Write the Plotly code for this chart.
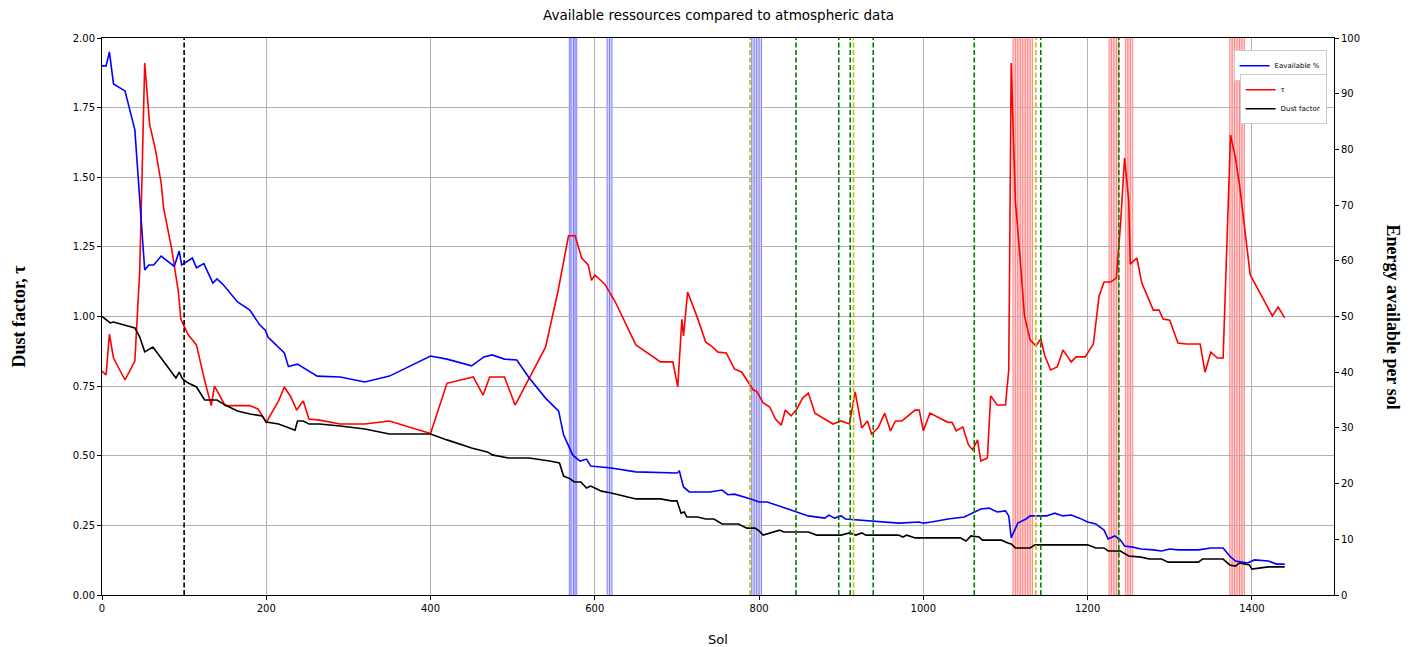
import plotly.graph_objects as go

# ---------------- data ----------------
blue_sol = [0, 5, 9, 14, 28, 40, 52, 57, 63, 72, 88, 94, 97, 110, 115, 124, 135, 140, 148, 165, 180, 192, 199, 202,
            222, 227, 238, 248, 262, 290, 320, 350, 400, 420, 450, 465, 475, 490, 505, 520, 540, 556, 562, 573, 582,
            590, 595, 620, 650, 700, 703, 708, 715, 740, 755, 762, 770, 790, 800, 810, 840, 860, 880, 885, 892, 900,
            905, 920, 930, 950, 970, 995, 1000, 1010, 1030, 1050, 1060, 1070, 1080, 1090, 1100, 1104, 1107, 1115,
            1125, 1130, 1150, 1160, 1170, 1180, 1190, 1200, 1210, 1220, 1225, 1233, 1240, 1245, 1255, 1265, 1280,
            1290, 1300, 1310, 1335, 1350, 1365, 1373, 1380, 1395, 1403, 1420, 1430, 1440]
blue_val = [1.90, 1.90, 1.95, 1.835, 1.81, 1.67, 1.167, 1.185, 1.185, 1.217, 1.18, 1.235, 1.185, 1.21, 1.175, 1.19,
            1.12, 1.135, 1.113, 1.052, 1.023, 0.97, 0.95, 0.926, 0.869, 0.82, 0.829, 0.81, 0.786, 0.783, 0.765, 0.786,
            0.858, 0.847, 0.823, 0.855, 0.862, 0.847, 0.844, 0.78, 0.707, 0.66, 0.575, 0.503, 0.481, 0.488, 0.463,
            0.456, 0.442, 0.438, 0.445, 0.388, 0.37, 0.37, 0.377, 0.36, 0.362, 0.345, 0.334, 0.334, 0.305, 0.284,
            0.276, 0.287, 0.276, 0.284, 0.273, 0.269, 0.266, 0.262, 0.258, 0.262, 0.258, 0.262, 0.273, 0.28, 0.294,
            0.309, 0.312, 0.298, 0.302, 0.284, 0.205, 0.258, 0.273, 0.284, 0.284, 0.294, 0.284, 0.287, 0.276, 0.262,
            0.255, 0.233, 0.201, 0.212, 0.197, 0.176, 0.172, 0.165, 0.162, 0.158, 0.165, 0.162, 0.162, 0.169, 0.169,
            0.14, 0.122, 0.115, 0.126, 0.122, 0.111, 0.111]
# energy available in percent (right axis)
energy_pct = [round(v * 50, 2) for v in blue_val]

tau_sol = [0, 5, 9, 14, 28, 40, 46, 52, 58, 65, 72, 75, 85, 93, 96, 105, 115, 125, 133, 137, 150, 160, 180, 190, 200,
           215, 222, 230, 237, 245, 252, 265, 290, 320, 350, 400, 420, 452, 464, 472, 490, 503, 520, 540, 555, 568,
           576, 584, 592, 596, 600, 612, 625, 650, 680, 695, 701, 706, 708, 713, 725, 735, 742, 750, 760, 770, 779,
           793, 797, 805, 813, 820, 827, 832, 839, 846, 853, 860, 868, 880, 890, 900, 910, 917, 925, 932, 937, 945,
           953, 960, 966, 974, 990, 995, 1000, 1008, 1030, 1035, 1040, 1048, 1055, 1060, 1066, 1070, 1078, 1082,
           1090, 1100, 1104, 1107, 1112, 1118, 1123, 1130, 1137, 1143, 1148, 1155, 1163, 1170, 1180, 1186, 1197,
           1207, 1214, 1220, 1228, 1235, 1240, 1245, 1250, 1252, 1260, 1266, 1280, 1287, 1292, 1300, 1310, 1320,
           1337, 1343, 1350, 1358, 1365, 1374, 1380, 1385, 1392, 1398, 1410, 1425, 1432, 1440]
tau_val = [0.804, 0.79, 0.937, 0.851, 0.772, 0.84, 1.167, 1.91, 1.69, 1.60, 1.48, 1.39, 1.24, 1.088, 0.99, 0.934,
           0.898, 0.77, 0.68, 0.75, 0.68, 0.68, 0.68, 0.668, 0.62, 0.697, 0.747, 0.711, 0.664, 0.697, 0.632, 0.628,
           0.614, 0.614, 0.625, 0.58, 0.76, 0.783, 0.718, 0.783, 0.783, 0.682, 0.78, 0.89, 1.088, 1.29, 1.29, 1.21,
           1.185, 1.13, 1.149, 1.117, 1.052, 0.898, 0.837, 0.837, 0.747, 0.99, 0.93, 1.088, 0.995, 0.908, 0.894,
           0.872, 0.869, 0.812, 0.80, 0.736, 0.732, 0.69, 0.675, 0.632, 0.61, 0.664, 0.643, 0.668, 0.707, 0.725,
           0.653, 0.632, 0.614, 0.625, 0.614, 0.729, 0.60, 0.625, 0.578, 0.60, 0.653, 0.589, 0.625, 0.625, 0.664,
           0.664, 0.589, 0.653, 0.62, 0.62, 0.589, 0.603, 0.539, 0.521, 0.557, 0.481, 0.492, 0.715, 0.682, 0.682,
           0.808, 1.91, 1.418, 1.203, 1.005, 0.916, 0.894, 0.919, 0.858, 0.808, 0.819, 0.88, 0.837, 0.855, 0.855,
           0.901, 1.074, 1.124, 1.124, 1.138, 1.328, 1.569, 1.418, 1.188, 1.21, 1.12, 1.023, 1.023, 0.991, 0.987,
           0.905, 0.901, 0.901, 0.80, 0.872, 0.851, 0.851, 1.652, 1.569, 1.472, 1.303, 1.149, 1.084, 1.002, 1.034,
           0.995]

dust_sol = [0, 10, 14, 30, 40, 46, 52, 62, 72, 85, 90, 94, 98, 105, 115, 125, 140, 150, 165, 180, 195, 200, 215, 228,
            235, 238, 245, 252, 265, 290, 320, 350, 400, 420, 450, 470, 475, 495, 520, 545, 557, 562, 570, 575, 583,
            590, 595, 600, 608, 620, 650, 680, 693, 700, 705, 709, 712, 725, 735, 745, 755, 775, 785, 795, 800, 805,
            815, 825, 830, 860, 870, 900, 910, 918, 925, 930, 970, 975, 980, 990, 1045, 1052, 1058, 1068, 1072, 1095,
            1103, 1107, 1112, 1130, 1136, 1200, 1210, 1220, 1225, 1240, 1250, 1265, 1275, 1290, 1298, 1335, 1340,
            1365, 1373, 1380, 1385, 1397, 1400, 1420, 1440]
dust_val = [1.0, 0.977, 0.98, 0.966, 0.959, 0.926, 0.873, 0.89, 0.851, 0.797, 0.779, 0.80, 0.776, 0.761, 0.747, 0.70,
            0.70, 0.682, 0.661, 0.65, 0.643, 0.621, 0.614, 0.60, 0.592, 0.625, 0.625, 0.614, 0.614, 0.607, 0.596,
            0.578, 0.578, 0.557, 0.528, 0.513, 0.503, 0.492, 0.492, 0.481, 0.474, 0.427, 0.417, 0.406, 0.406, 0.384,
            0.391, 0.384, 0.373, 0.366, 0.345, 0.345, 0.338, 0.338, 0.294, 0.298, 0.28, 0.28, 0.273, 0.273, 0.255,
            0.255, 0.24, 0.24, 0.23, 0.215, 0.223, 0.233, 0.226, 0.226, 0.215, 0.215, 0.223, 0.215, 0.223, 0.215,
            0.215, 0.208, 0.215, 0.205, 0.205, 0.194, 0.212, 0.208, 0.197, 0.197, 0.187, 0.183, 0.169, 0.169, 0.18,
            0.18, 0.169, 0.169, 0.158, 0.158, 0.14, 0.136, 0.129, 0.129, 0.118, 0.118, 0.129, 0.129, 0.108, 0.104,
            0.115, 0.108, 0.093, 0.101, 0.101]

# event markers (sols)
black_event_sols = [100]
green_event_sols = [845, 897, 911, 939, 1062, 1143, 1238]
yellow_event_sols = [789, 915, 1137]
blue_storm_sols = [[569, 571, 574, 576, 578], [615, 618, 621], [791, 794, 797, 800, 803]]
red_storm_sols = [[1109, 1112, 1115, 1118, 1121, 1124, 1127, 1130, 1133],
                  [1226, 1229, 1232, 1235, 1238],
                  [1246, 1249, 1252, 1255],
                  [1373, 1376, 1379, 1382, 1385, 1388, 1391]]

x_ticks = [0, 200, 400, 600, 800, 1000, 1200, 1400]
left_ticks = [0.0, 0.25, 0.5, 0.75, 1.0, 1.25, 1.5, 1.75, 2.0]
right_ticks = [0, 10, 20, 30, 40, 50, 60, 70, 80, 90, 100]

# ---------------- figure ----------------
fig = go.Figure()

fig.add_trace(go.Scatter(x=tau_sol, y=tau_val, mode="lines", name="τ",
                         line=dict(color="#ff0000", width=1.6), legend="legend2"))
fig.add_trace(go.Scatter(x=dust_sol, y=dust_val, mode="lines", name="Dust factor",
                         line=dict(color="#000000", width=1.6), legend="legend2"))
fig.add_trace(go.Scatter(x=blue_sol, y=energy_pct, mode="lines", name="Eavailable %",
                         line=dict(color="#0000ff", width=1.6), yaxis="y2", legend="legend"))

shapes = []
for group, col_fill, col_line in [(g, "rgba(0,0,255,0.14)", "rgba(0,0,255,0.42)") for g in blue_storm_sols] + \
                                 [(g, "rgba(255,0,0,0.16)", "rgba(255,0,0,0.38)") for g in red_storm_sols]:
    shapes.append(dict(type="rect", xref="x", yref="paper", x0=min(group), x1=max(group), y0=0, y1=1,
                       fillcolor=col_fill, line=dict(width=0), layer="below"))
    for s in group:
        shapes.append(dict(type="line", xref="x", yref="paper", x0=s, x1=s, y0=0, y1=1,
                           line=dict(color=col_line, width=1.1), layer="below"))

for sols, col in [(black_event_sols, "#000000"), (yellow_event_sols, "#bfbf00"), (green_event_sols, "#008000")]:
    for s in sols:
        shapes.append(dict(type="line", xref="x", yref="paper", x0=s, x1=s, y0=0, y1=1,
                           line=dict(color=col, width=1.6, dash="5px,2.5px"), layer="above"))

tickfont = dict(family="DejaVu Sans", size=10, color="black")
label_font = dict(family="Liberation Serif", size=18, color="black")
legend_font = dict(family="DejaVu Sans", size=7, color="black")

# the page body has an 8px margin, so the figure is sized 8px smaller and margins shifted accordingly
fig.update_layout(
    width=1410, height=639,
    margin=dict(l=94, r=84, t=30, b=52, autoexpand=False),
    paper_bgcolor="white", plot_bgcolor="white",
    xaxis=dict(range=[0, 1500], tickvals=x_ticks, ticks="outside", ticklen=4, tickcolor="black",
               showline=True, linecolor="black", linewidth=1, mirror=True,
               showgrid=True, gridcolor="#b0b0b0", gridwidth=0.8, zeroline=False, tickfont=tickfont),
    yaxis=dict(range=[0, 2.0], tickvals=left_ticks, tickformat=".2f", ticks="outside", ticklen=4,
               tickcolor="black", showline=True, linecolor="black", linewidth=1, mirror=True,
               showgrid=True, gridcolor="#b0b0b0", gridwidth=0.8, zeroline=False, tickfont=tickfont),
    yaxis2=dict(range=[0, 100], tickvals=right_ticks, overlaying="y", side="right", ticks="outside",
                ticklen=4, tickcolor="black", showgrid=False, zeroline=False, showline=False,
                tickfont=tickfont),
    shapes=shapes,
    showlegend=True,
    legend=dict(x=0.994, y=0.978, xanchor="right", yanchor="top", bgcolor="white",
                bordercolor="#cccccc", borderwidth=1, font=legend_font,
                itemwidth=30, tracegroupgap=0),
    legend2=dict(x=0.994, y=0.935, xanchor="right", yanchor="top", bgcolor="white",
                 bordercolor="#cccccc", borderwidth=1, font=legend_font,
                 itemwidth=30, tracegroupgap=0),
    annotations=[
        dict(text="Available ressources compared to atmospheric data", xref="paper", yref="paper",
             x=0.5, y=1, xanchor="center", yanchor="middle", yshift=23, showarrow=False,
             font=dict(family="DejaVu Sans", size=13.5, color="black")),
        dict(text="<b>Dust factor, τ</b>", xref="paper", yref="paper", x=0, y=0.5, xanchor="center",
             yanchor="middle", xshift=-84, textangle=-90, showarrow=False, font=label_font),
        dict(text="<b>Energy available per sol</b>", xref="paper", yref="paper", x=1, y=0.5,
             xanchor="center", yanchor="middle", xshift=59, textangle=90, showarrow=False, font=label_font),
        dict(text="Sol", xref="paper", yref="paper", x=0.5, y=0, xanchor="center", yanchor="middle",
             yshift=-44, showarrow=False, font=dict(family="DejaVu Sans", size=13, color="black")),
    ],
)

fig.write_html("out.html")
